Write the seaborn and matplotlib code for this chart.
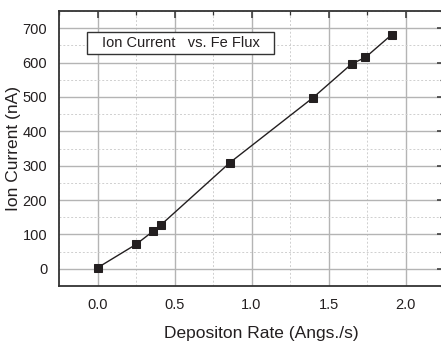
import numpy as np
import pandas as pd
import matplotlib
matplotlib.use('Agg')
import matplotlib.pyplot as plt
from matplotlib.ticker import MultipleLocator
from matplotlib.patches import Rectangle
import seaborn as sns

# depositon rate (Angs./s) vs ion current (nA)
rate = [0.0, 0.25, 0.36, 0.41, 0.86, 1.40, 1.65, 1.74, 1.91]
current = [3, 71, 109, 127, 309, 498, 596, 615, 681]

df = pd.DataFrame({'rate': rate, 'current': current})

sns.set_style('white')
plt.rcParams['font.family'] = ['Liberation Sans', 'DejaVu Sans']

fig = plt.figure(figsize=(4.41, 3.42), dpi=100)
ax = fig.add_axes([59/441, 1 - 286/342, 385/441, 275/342])

sns.lineplot(data=df, x='rate', y='current', ax=ax, color='#231f20',
             linewidth=1.0, marker='s', markersize=5.5,
             markeredgecolor='#231f20', markerfacecolor='#231f20')

ax.set_xlim(-0.25, 2.25)
ax.set_ylim(-50, 750)
ax.xaxis.set_minor_locator(MultipleLocator(0.25))
ax.yaxis.set_minor_locator(MultipleLocator(50))
ax.set_xticks([0, 0.5, 1.0, 1.5, 2.0])
ax.set_xticklabels(['0.0', '0.5', '1.0', '1.5', '2.0'])
ax.set_yticks(range(0, 701, 100))

ax.grid(which='major', color='#b4b4b4', linewidth=1.0, linestyle='-')
ax.grid(which='minor', color='#cfcfcf', linewidth=0.7, linestyle=(0, (2, 2)))
ax.set_axisbelow(True)

for s in ax.spines.values():
    s.set_color('#333333')
    s.set_linewidth(1.3)

ax.tick_params(which='both', direction='out', colors='#333333', labelcolor='#231f20',
               labelsize=10.5, top=True, right=True)
ax.tick_params(which='major', length=5, width=1.1)
ax.tick_params(which='minor', length=3, width=0.9)
# top/right ticks go inward
for t in ax.xaxis.get_major_ticks() + ax.xaxis.get_minor_ticks():
    t.tick2line.set_marker(matplotlib.lines.TICKDOWN)
for t in ax.yaxis.get_major_ticks() + ax.yaxis.get_minor_ticks():
    t.tick2line.set_marker(matplotlib.lines.TICKLEFT)

ax.set_xlabel('Depositon Rate (Angs./s)', fontsize=12.5, color='#231f20')
ax.set_ylabel('Ion Current (nA)', fontsize=12.5, color='#231f20')
ax.xaxis.set_label_coords(0.526, -0.171)
ax.yaxis.set_label_coords(-0.119, 0.5)
ax.xaxis.label.set_va('center')
ax.yaxis.label.set_va('center')

# legend-like box
ax.add_patch(Rectangle((0.072, 0.844), 0.486, 0.080, transform=ax.transAxes,
                       facecolor='white', edgecolor='#333333', linewidth=1.0, zorder=5))
ax.text(0.317, 0.884, 'Ion Current   vs. Fe Flux', transform=ax.transAxes,
        ha='center', va='center', fontsize=10.5, color='#231f20', zorder=6)

fig.savefig('out.png', dpi=100)
